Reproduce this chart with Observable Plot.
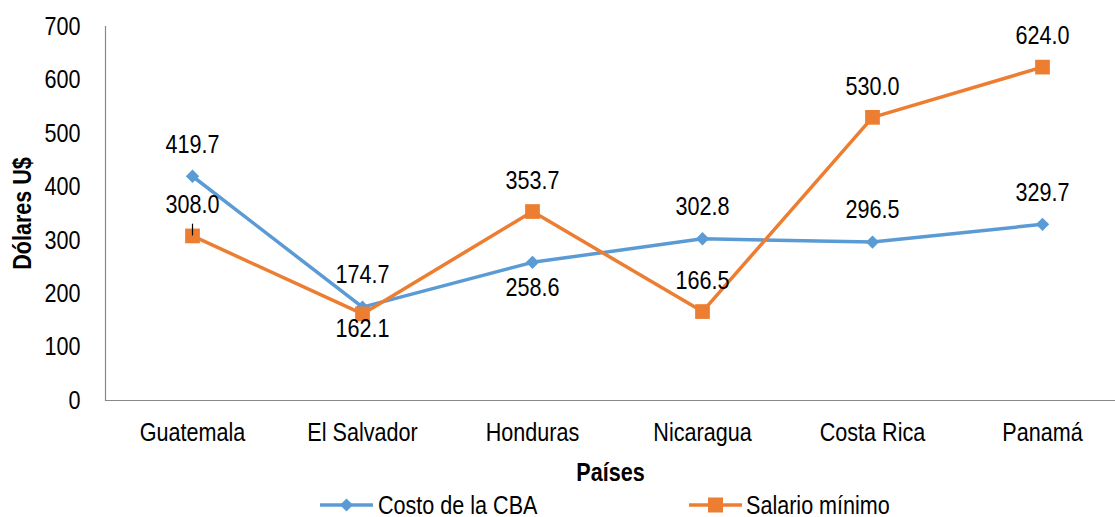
<!DOCTYPE html>
<html>
<head>
<meta charset="utf-8">
<script src="https://cdn.jsdelivr.net/npm/d3@7"></script>
<script src="https://cdn.jsdelivr.net/npm/@observablehq/plot@0.6"></script>
<style>
  html, body { margin: 0; padding: 0; background: #fff; }
  body { width: 1115px; height: 517px; overflow: hidden; font-family: 'Liberation Sans', Arial, sans-serif; }
  #chart svg, #legend svg { display: block; }
</style>
</head>
<body>
<div id="chart"></div>
<div id="legend">
  <svg width="1115" height="30" style="font-family:'Liberation Sans', Arial, sans-serif;font-size:26px">
    <line x1="320" y1="18" x2="373" y2="18" stroke="#5B9BD5" stroke-width="3.5"/>
    <path d="M346.5,11.5L353,18L346.5,24.5L340,18Z" fill="#5B9BD5"/>
    <text transform="translate(378,18) scale(0.83,1)" dy="0.35em" fill="#000">Costo de la CBA</text>
    <line x1="689" y1="18" x2="742" y2="18" stroke="#ED7D31" stroke-width="3.5"/>
    <rect x="708" y="10.5" width="15" height="15" fill="#ED7D31"/>
    <text transform="translate(746,18) scale(0.83,1)" dy="0.35em" fill="#000">Salario mínimo</text>
  </svg>
</div>
<script>
const paises = ["Guatemala", "El Salvador", "Honduras", "Nicaragua", "Costa Rica", "Panamá"];
const costoCBA = [419.7, 174.7, 258.6, 302.8, 296.5, 329.7];
const salarioMinimo = [308.0, 162.1, 353.7, 166.5, 530.0, 624.0];
const yTicks = [0, 100, 200, 300, 400, 500, 600, 700];

const blue = "#5B9BD5";
const orange = "#ED7D31";
const fmt = d3.format(".1f");

const cba = paises.map((p, i) => ({pais: p, v: costoCBA[i], i}));
const sal = paises.map((p, i) => ({pais: p, v: salarioMinimo[i], i}));

const cbaBelow = new Set(["Honduras"]);
const salBelow = new Set(["El Salvador"]);

const chart = Plot.plot({
  width: 1115,
  height: 487,
  marginLeft: 105,
  marginRight: 0,
  marginTop: 26,
  marginBottom: 87,
  style: {fontFamily: "'Liberation Sans', Arial, sans-serif", fontSize: "26px", color: "#000", background: "#fff"},
  x: {type: "point", domain: paises, range: [190, 1043], padding: 0},
  y: {domain: [0, 700]},
  marks: [
    Plot.frame({anchor: "left", stroke: "#888", strokeWidth: 1.2}),
    Plot.ruleY([0], {stroke: "#888", strokeWidth: 1.2}),
    Plot.axisY(yTicks, {tickSize: 0, tickPadding: 25, label: null, fontSize: 26, fill: "#000"}),
    Plot.axisX({tickSize: 0, tickPadding: 22, label: null, fontSize: 26, fill: "#000"}),
    Plot.text(["Dólares U$"], {frameAnchor: "left", textAnchor: "middle", lineAnchor: "middle", dx: -83, rotate: -90, fontWeight: "bold", fontSize: 26, fill: "#000"}),
    Plot.text(["Países"], {frameAnchor: "bottom", textAnchor: "middle", lineAnchor: "middle", dy: 72, fontWeight: "bold", fontSize: 26, fill: "#000"}),
    Plot.line(cba, {x: "pais", y: "v", stroke: blue, strokeWidth: 3.5}),
    Plot.dot(cba, {x: "pais", y: "v", symbol: "diamond2", r: 6, fill: blue, stroke: null}),
    Plot.line(sal, {x: "pais", y: "v", stroke: orange, strokeWidth: 3.5}),
    Plot.dot(sal, {x: "pais", y: "v", symbol: "square", r: 8.3, fill: orange, stroke: null}),
    Plot.ruleX(sal.filter(d => d.pais === "Guatemala"), {x: "pais", y1: "v", y2: d => d.v + 22, stroke: "#000", strokeWidth: 1.2}),
    Plot.text(cba.filter(d => !cbaBelow.has(d.pais)), {x: "pais", y: "v", text: d => fmt(d.v), dy: -32, fontSize: 26, fill: "#000"}),
    Plot.text(cba.filter(d => cbaBelow.has(d.pais)), {x: "pais", y: "v", text: d => fmt(d.v), dy: 25, fontSize: 26, fill: "#000"}),
    Plot.text(sal.filter(d => !salBelow.has(d.pais)), {x: "pais", y: "v", text: d => fmt(d.v), dy: -31, fontSize: 26, fill: "#000"}),
    Plot.text(sal.filter(d => salBelow.has(d.pais)), {x: "pais", y: "v", text: d => fmt(d.v), dy: 15, fontSize: 26, fill: "#000"})
  ]
});

// Condense all text horizontally (the reference uses a narrow typeface)
chart.querySelectorAll("text").forEach(t => {
  const tr = t.getAttribute("transform") || "";
  t.setAttribute("transform", (tr + " scale(0.83,1)").trim());
});

document.getElementById("chart").appendChild(chart);
</script>
</body>
</html>
